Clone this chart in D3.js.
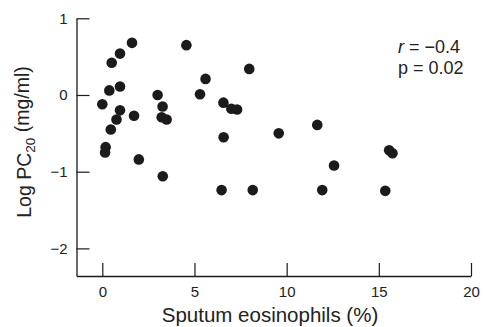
<!DOCTYPE html>
<html>
<head>
<meta charset="utf-8">
<script src="https://cdn.jsdelivr.net/npm/d3@7"></script>
<style>
  body { margin: 0; background: #fff; }
  svg { display: block; font-family: "Liberation Sans", Arial, sans-serif; }
</style>
</head>
<body>
<div id="chart_container"></div>
<script>

// sputum eosinophils (%) vs log PC20 (mg/ml), one entry per subject
var eosinophils = [
  1.61, 0.96, 0.51, 0.38, 0.96, 0.0, 0.96, 1.72, 0.77, 0.46, 0.18, 0.15, 1.98,
  4.56, 3.0, 3.27, 3.22, 3.49, 5.3, 5.6, 7.97, 6.57, 7.0, 7.31, 6.58, 9.57,
  3.28, 6.47, 8.16, 11.66, 15.56, 15.74, 12.57, 11.93, 15.35
]
var log_pc20 = [
  0.68, 0.54, 0.42, 0.06, 0.11, -0.12, -0.2, -0.27, -0.32, -0.45, -0.68, -0.75, -0.84,
  0.65, 0.0, -0.15, -0.29, -0.32, 0.01, 0.21, 0.34, -0.1, -0.18, -0.19, -0.55, -0.5,
  -1.06, -1.24, -1.24, -0.39, -0.72, -0.76, -0.92, -1.24, -1.25
]

var x_ticks = [0, 5, 10, 15, 20]
var y_ticks = [-2, -1, 0, 1]

var graph_width = 483
var graph_height = 327

var svg = d3.select('div#chart_container').append('svg')
  .attr('width', graph_width)
  .attr('height', graph_height)

var x = d3.scaleLinear().domain([-1.4, 20]).range([76.5, 471])
var y = d3.scaleLinear().domain([-2.36, 1]).range([276, 18.3])

var axis_color = '#1a1a1a'

// y axis, ticks point inwards
var g_y = svg.append('g')
  .attr('transform', 'translate(' + x(-1.4) + ',0)')
  .call(d3.axisLeft(y).tickValues(y_ticks).tickFormat(d3.format('d'))
    .tickSize(-13).tickSizeOuter(0).tickPadding(9))

// x axis
var g_x = svg.append('g')
  .attr('transform', 'translate(0,' + y(-2.36) + ')')
  .call(d3.axisBottom(x).tickValues(x_ticks).tickFormat(d3.format('d'))
    .tickSize(-13).tickSizeOuter(0).tickPadding(10.5))

;[g_x, g_y].forEach(function(g){
  g.select('.domain').attr('stroke', axis_color).attr('stroke-width', 1.3)
  g.selectAll('.tick line').attr('stroke', axis_color).attr('stroke-width', 1.2)
  g.selectAll('.tick text')
    .attr('fill', '#222')
    .style('font-size', '15px')
    .style('font-family', '"Liberation Sans", Arial, sans-serif')
})

// points
svg.append('g').selectAll('circle')
  .data(eosinophils)
  .enter().append('circle')
  .attr('cx', function(d) { return x(d) })
  .attr('cy', function(d, i) { return y(log_pc20[i]) })
  .attr('r', 5.3)
  .attr('fill', '#1c1a1b')

// axis titles
svg.append('text')
  .attr('x', 270)
  .attr('y', 322)
  .attr('text-anchor', 'middle')
  .attr('fill', '#222')
  .style('font-size', '20.5px')
  .text('Sputum eosinophils (%)')

var y_title = svg.append('text')
  .attr('transform', 'translate(31,142) rotate(-90)')
  .attr('text-anchor', 'middle')
  .attr('fill', '#222')
  .style('font-size', '19.5px')

y_title.append('tspan').text('Log PC')
y_title.append('tspan').attr('dy', '0.3em').style('font-size', '13.5px').text('20')
y_title.append('tspan').attr('dy', '-0.3em').text(' (mg/ml)')

// stats annotation
var r_text = svg.append('text')
  .attr('x', 398)
  .attr('y', 53)
  .attr('fill', '#222')
  .style('font-size', '18px')
r_text.append('tspan').style('font-style', 'italic').text('r')
r_text.append('tspan').text(' = −0.4')

svg.append('text')
  .attr('x', 398)
  .attr('y', 74)
  .attr('fill', '#222')
  .style('font-size', '18px')
  .text('p = 0.02')

</script>
</body>
</html>
